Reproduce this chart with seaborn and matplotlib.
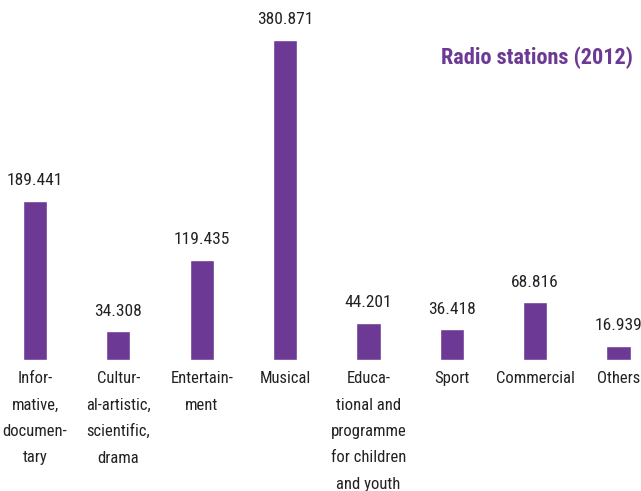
import matplotlib
matplotlib.use("Agg")
import matplotlib.pyplot as plt
from matplotlib import font_manager
import seaborn as sns
import pandas as pd

# data
categories = ["Infor-\nmative,\ndocumen-\ntary",
              "Cultur-\nal-artistic,\nscientific,\ndrama",
              "Entertain-\nment",
              "Musical",
              "Educa-\ntional and\nprogramme\nfor children\nand youth",
              "Sport",
              "Commercial",
              "Others"]
stations = [189.441, 34.308, 119.435, 380.871, 44.201, 36.418, 68.816, 16.939]
value_labels = ["189.441", "34.308", "119.435", "380.871", "44.201", "36.418", "68.816", "16.939"]

PURPLE = "#6c3994"

sns.set_theme(style="white")

# pick a narrow face if one is around
names = {f.name for f in font_manager.fontManager.ttflist}
narrow = [n for n in ["Liberation Sans Narrow", "DejaVu Sans Condensed", "Roboto Condensed",
                      "Open Sans Condensed"] if n in names]
plt.rcParams["font.family"] = narrow + ["DejaVu Sans"]
plt.rcParams["font.stretch"] = "condensed"

df = pd.DataFrame({"category": categories, "value": stations})

fig = plt.figure(figsize=(6.41, 4.91), dpi=100)
ax = fig.add_axes([0, 131 / 491, 1, 320 / 491])

sns.barplot(data=df, x="category", y="value", color=PURPLE, saturation=1,
            width=0.29, ax=ax)

ax.set_xlim(-0.42, 7.27)
ax.set_ylim(0, 380.871)
ax.bar_label(ax.containers[0], labels=value_labels, padding=9,
             fontsize=12.5, color="#222222")

ax.set_xlabel("")
ax.set_ylabel("")
ax.set_yticks([])
ax.tick_params(axis="x", length=0, pad=8, labelsize=12, labelcolor="#222222")
for lbl in ax.get_xticklabels():
    lbl.set_linespacing(1.95)
sns.despine(ax=ax, left=True, bottom=True)

fig.text(633 / 641, 1 - 58 / 491, "Radio stations (2012)", ha="right", va="center",
         fontsize=16, fontweight="bold", color=PURPLE)

fig.savefig("out.png", dpi=100)
